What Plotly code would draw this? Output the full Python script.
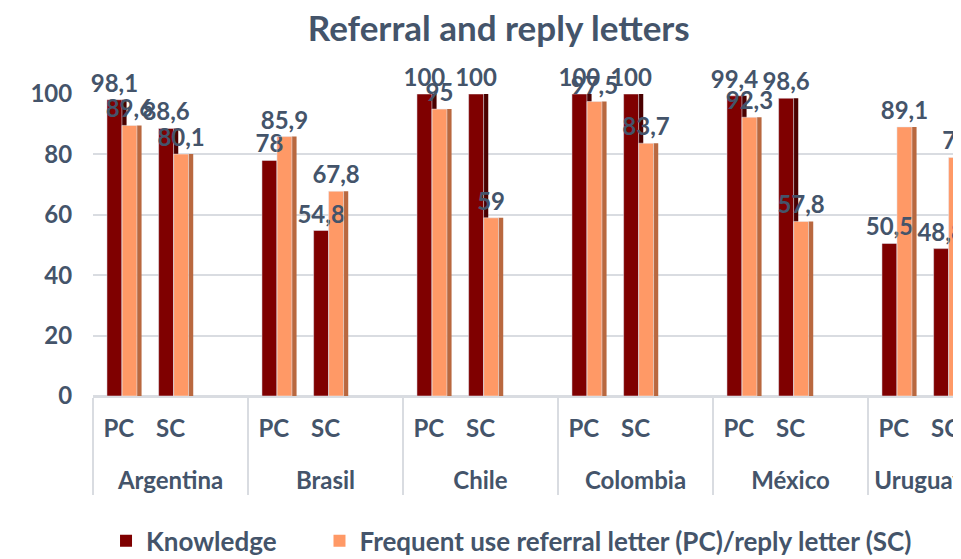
import plotly.graph_objects as go

countries = ["Argentina", "Brasil", "Chile", "Colombia", "México", "Uruguay"]
letter_types = ["PC", "SC"]
knowledge = [98.1, 88.6, 78, 54.8, 100, 100, 100, 100, 99.4, 98.6, 50.5, 48.8]
frequent_use = [89.6, 80.1, 85.9, 67.8, 95, 59, 97.5, 83.7, 92.3, 57.8, 89.1, 79]
y_ticks = [0, 20, 40, 60, 80, 100]
series_names = ["Knowledge", "Frequent use referral letter (PC)/reply letter (SC)"]

TXT = "#44546A"
FONT = "Lato"
DARK = "#7F0000"
DARK_SIDE = "#4A0000"
ORANGE = "#FF9966"
ORANGE_SIDE = "#B9683F"
CLEAR = "rgba(0,0,0,0)"
GRID = "#D9DCE1"

# Build the two-level categorical axis, with an empty slot after each country
lvl1, lvl2, k_vals, f_vals = [], [], [], []
i = 0
for c in countries:
    for t in letter_types + [" "]:
        lvl1.append("<br>" + c)
        lvl2.append(t)
        if t.strip():
            k_vals.append(knowledge[i])
            f_vals.append(frequent_use[i])
            i += 1
        else:
            k_vals.append(None)
            f_vals.append(None)
x = [lvl1, lvl2]


def fmt(v):
    return "" if v is None else f"{v:g}".replace(".", ",")


label_font = dict(family=FONT, size=24, color=TXT, weight="bold")

fig = go.Figure()
# bars (front faces + side faces)
fig.add_trace(go.Bar(x=x, y=k_vals, offset=-0.23, width=0.29, marker_color=DARK,
                     marker_line_width=0, name=series_names[0] + "\u00a0" * 6,
                     legendrank=1))
fig.add_trace(go.Bar(x=x, y=k_vals, offset=0.06, width=0.09, marker_color=DARK_SIDE,
                     marker_line_width=0, showlegend=False, hoverinfo="skip"))
fig.add_trace(go.Bar(x=x, y=f_vals, offset=0.06, width=0.29, marker_color=ORANGE,
                     marker_line_width=0, legendrank=2, name=series_names[1]))
fig.add_trace(go.Bar(x=x, y=f_vals, offset=0.35, width=0.09, marker_color=ORANGE_SIDE,
                     marker_line_width=0, showlegend=False, hoverinfo="skip"))
# data labels on top of everything
fig.add_trace(go.Bar(x=x, y=k_vals, offset=-0.23, width=0.29, marker_color=CLEAR,
                     showlegend=False, hoverinfo="skip",
                     text=[fmt(v) for v in k_vals], textposition="outside",
                     constraintext="none", cliponaxis=False, textfont=label_font))
fig.add_trace(go.Bar(x=x, y=f_vals, offset=0.06, width=0.29, marker_color=CLEAR,
                     showlegend=False, hoverinfo="skip",
                     text=[fmt(v) for v in f_vals], textposition="outside",
                     constraintext="none", cliponaxis=False, textfont=label_font))

# page body adds an 8px offset, so the figure is 8px smaller and margins 8px less
fig.update_layout(
    width=953, height=551,
    barmode="overlay",
    paper_bgcolor="white", plot_bgcolor="white",
    margin=dict(l=85, r=0, t=86, b=163, autoexpand=False),
    font=dict(family=FONT, color=TXT, size=24),
    title=dict(text="<b>Referral and reply letters</b>", x=0.515, xanchor="center",
               y=0.962, yanchor="middle", font=dict(family=FONT, size=35, color=TXT)),
    legend=dict(orientation="h", x=0.015, xanchor="left", y=-0.48, yanchor="middle",
                font=dict(family=FONT, size=26, color=TXT, weight="bold"),
                itemwidth=30),
    showlegend=True,
)
fig.update_yaxes(range=[0, 100], tickvals=y_ticks, showgrid=True, gridcolor=GRID,
                 gridwidth=2, zeroline=True, zerolinecolor=GRID, zerolinewidth=2,
                 ticks="outside", ticklen=15, tickcolor=CLEAR, automargin=False,
                 tickfont=dict(family=FONT, size=24, color=TXT, weight="bold"),
                 showline=False)
fig.update_xaxes(type="multicategory", range=[-0.5, 16.3], showdividers=True,
                 dividercolor=GRID, dividerwidth=2, showgrid=False,
                 automargin=False, ticklabelstandoff=10,
                 tickfont=dict(family=FONT, size=24, color=TXT, weight="bold"),
                 showline=True, linecolor=GRID, linewidth=2)

fig.write_html("out.html")
